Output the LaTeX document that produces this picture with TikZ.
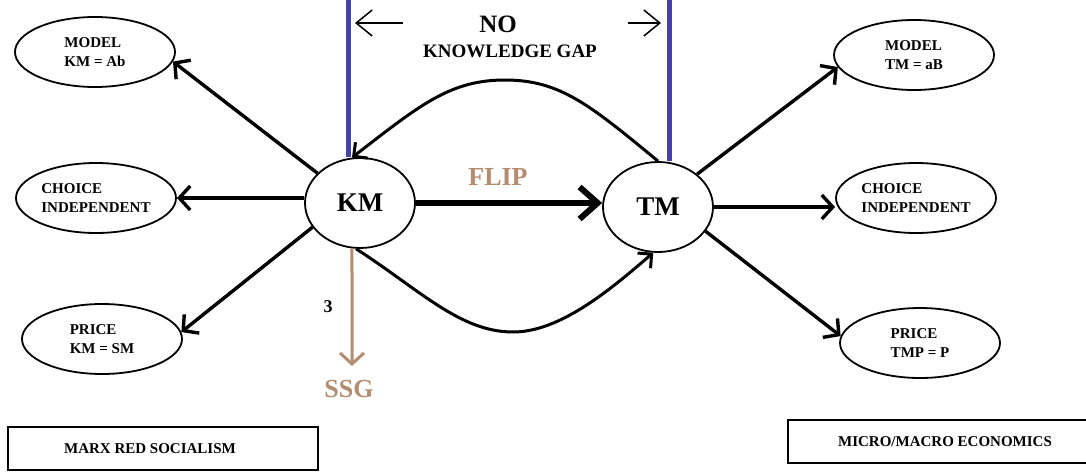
\documentclass[tikz,border=0pt]{standalone}
\usepackage{fontspec}
\setmainfont{Liberation Serif}
\usetikzlibrary{shapes.geometric,arrows.meta}
\definecolor{gapblue}{RGB}{66,66,168}
\definecolor{flipbrown}{RGB}{180,140,112}
\tikzset{
  oval/.style={ellipse,draw,line width=1.8pt,inner sep=0pt,minimum width=160pt,minimum height=70pt,
    align=left,font=\fontsize{15}{19}\selectfont\bfseries},
  hub/.style={ellipse,draw,line width=1.8pt,inner sep=0pt,minimum width=110pt,minimum height=90pt,
    font=\fontsize{27}{30}\selectfont\bfseries},
  titlebox/.style={rectangle,draw,line width=2pt,minimum height=43pt,font=\fontsize{15}{18}\selectfont\bfseries},
  link/.style={line width=3.4pt,-{Straight Barb[length=11pt,width=24pt]}},
  fliparr/.style={line width=6pt,-{Straight Barb[length=18pt,width=32pt]}},
  curvearr/.style={line width=3pt,-{Straight Barb[length=10pt,width=20pt]}},
  ssgarr/.style={line width=3pt,draw=flipbrown,-{Straight Barb[length=11pt,width=24pt]}},
  gapline/.style={line width=5pt,draw=gapblue},
  thinarr/.style={line width=1.5pt,-{Straight Barb[length=16pt,width=26pt]}},
  bigtxt/.style={font=\fontsize{26}{30}\selectfont\bfseries},
}
\begin{document}
\begin{tikzpicture}[x=1pt,y=-1pt]
\clip (0,0) rectangle (1086,471);
\fill[white] (0,0) rectangle (1086,471);

% hubs
\node[hub] (km) at (360,203) {KM};
\node[hub] (tm) at (658,207) {TM};

% left ovals
\node[oval] (ml) at (95,52) {MODEL\\KM = Ab};
\node[oval] (cl) at (96,198) {CHOICE\\INDEPENDENT};
\node[oval] (pl) at (102,339) {PRICE\\KM = SM};

% right ovals
\node[oval] (mr) at (914,55) {MODEL\\TM = aB};
\node[oval] (cr) at (916,198) {CHOICE\\INDEPENDENT};
\node[oval] (pr) at (920,343) {PRICE\\TMP = P};

% boxes
\node[titlebox,minimum width=310pt] (marx) at (163,448.5) {\hspace*{-26pt}MARX RED SOCIALISM};
\node[titlebox,minimum width=314pt] (micro) at (945,441.5) {MICRO/MACRO ECONOMICS};

% blue gap lines
\coordinate (gl) at (348,0);
\coordinate (gr) at (669,0);
\draw[gapline] (gl) -- (gl |- km.north);
\draw[gapline] (gr) -- (gr |- tm.north);

% top labels
\node[font=\fontsize{25}{28}\selectfont\bfseries] (no) at (498,24) {NO};
\node[font=\fontsize{19}{22}\selectfont\bfseries] (gap) at (510,51) {KNOWLEDGE GAP};
\coordinate (la1) at (403,23);
\coordinate (la2) at (355,23);
\coordinate (ra1) at (628,23);
\coordinate (ra2) at (661,23);
\draw[thinarr] (la1) -- (la2);
\draw[thinarr] (ra1) -- (ra2);

% left connectors
\draw[link] (km.145) -- (ml.-7);
\draw[link] (km.west |- cl.east) -- (cl.east);
\draw[link] (km.207) -- (pl.5);

% right connectors
\draw[link] (tm.40) -- (mr.189);
\draw[link] (tm.east) -- (tm.east -| cr.west);
\draw[link] (tm.-27) -- (pr.175);

% flip
\draw[fliparr] (km.east) -- (tm.west |- km.east);
\node[bigtxt,text=flipbrown] (flip) at (498,177) {FLIP};

% curves
\draw[curvearr] (tm.north) .. controls (590,105) and (560,80) .. (505,80)
   .. controls (450,80) and (420,105) .. (km.100);
\draw[curvearr] (km.-95) .. controls (420,290) and (460,332) .. (513,332)
   .. controls (560,332) and (610,290) .. (tm.-96);

% SSG
\coordinate (ssgtip) at (352,366);
\draw[ssgarr] (km.-100) -- (ssgtip);
\node[bigtxt,text=flipbrown] (ssg) at (349,389) {SSG};
\node[font=\fontsize{18}{20}\selectfont\bfseries] (three) at (328,307) {3};
\end{tikzpicture}
\end{document}
